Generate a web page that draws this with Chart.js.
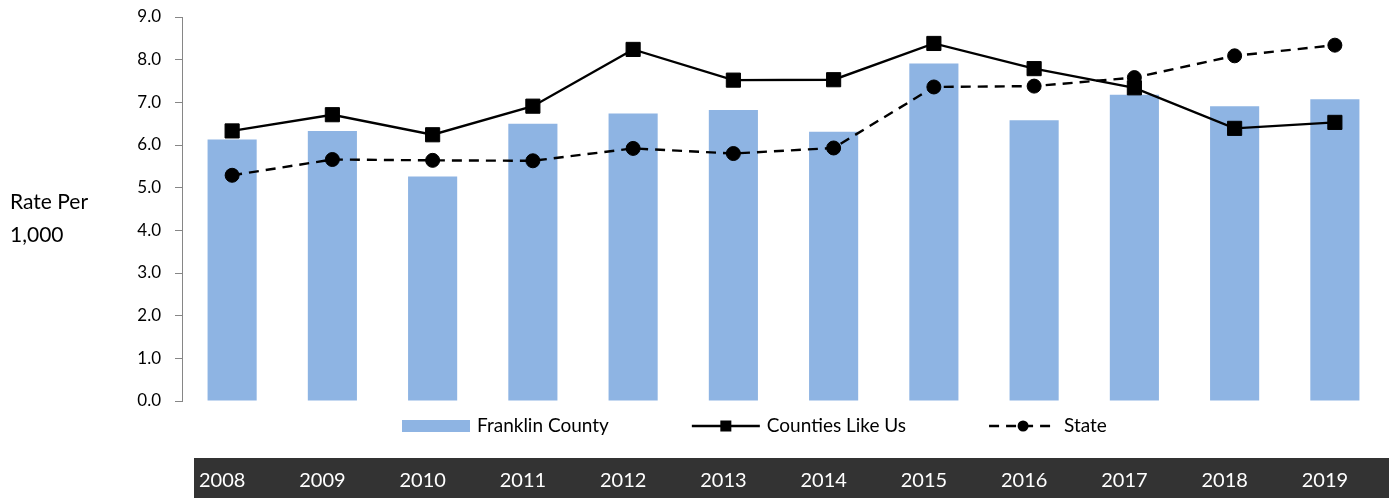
<!DOCTYPE html>
<html>
<head>
<meta charset="utf-8">
<script src="https://cdn.jsdelivr.net/npm/chart.js@4.4.1/dist/chart.umd.min.js"></script>
<style>
  body { margin: 0; background: #fff; }
</style>
</head>
<body>
<canvas id="chart" width="1396" height="498"></canvas>
<script>
// years shown in the dark strip under the legend
const years = ["2008", "2009", "2010", "2011", "2012", "2013", "2014", "2015", "2016", "2017", "2018", "2019"];

// rate per 1,000
const franklinCounty = [6.13, 6.33, 5.26, 6.50, 6.74, 6.82, 6.31, 7.91, 6.58, 7.18, 6.91, 7.07];
const countiesLikeUs = [6.33, 6.71, 6.24, 6.91, 8.24, 7.52, 7.53, 8.38, 7.79, 7.34, 6.39, 6.53];
const stateRate = [5.29, 5.66, 5.64, 5.63, 5.92, 5.80, 5.93, 7.36, 7.38, 7.58, 8.09, 8.34];

const yTitle = ["Rate Per", "1,000"];

const FONT = "Lato, 'Open Sans', sans-serif";

// white page + dark strip behind the year labels
const bandPlugin = {
    id: "yearBand",
    beforeDraw(chart) {
        const { ctx, width, height, scales } = chart;
        ctx.save();
        ctx.fillStyle = "#ffffff";
        ctx.fillRect(0, 0, width, height);
        ctx.fillStyle = "#333333";
        ctx.fillRect(scales.x.left + 12, height - 40, scales.x.right - scales.x.left - 8, 40);
        ctx.restore();
    }
};

// horizontal two-line title left of the y axis
const yTitlePlugin = {
    id: "yTitle",
    afterDraw(chart) {
        const { ctx, chartArea } = chart;
        const mid = (chartArea.top + chartArea.bottom) / 2;
        ctx.save();
        ctx.font = "21px " + FONT;
        ctx.fillStyle = "#000000";
        ctx.textAlign = "left";
        ctx.textBaseline = "alphabetic";
        yTitle.forEach((t, i) => ctx.fillText(t, 10, mid + i * 33));
        ctx.restore();
    }
};

// legend row between the plot and the year strip
const legendPlugin = {
    id: "rowLegend",
    afterDraw(chart) {
        const { ctx, chartArea } = chart;
        const y = chartArea.bottom + 25;
        let x = chartArea.left + 220;
        ctx.save();
        ctx.font = "19px " + FONT;
        ctx.textBaseline = "middle";
        ctx.textAlign = "left";
        chart.data.datasets.forEach(ds => {
            if (ds.type === "line") {
                ctx.strokeStyle = ds.borderColor;
                ctx.lineWidth = ds.borderWidth;
                ctx.setLineDash(ds.borderDash || []);
                ctx.beginPath();
                ctx.moveTo(x, y);
                ctx.lineTo(x + 68, y);
                ctx.stroke();
                ctx.setLineDash([]);
                ctx.fillStyle = ds.pointBackgroundColor;
                if (ds.pointStyle === "rect") {
                    ctx.fillRect(x + 34 - 5.5, y - 5.5, 11, 11);
                } else {
                    ctx.beginPath();
                    ctx.arc(x + 34, y, 5.5, 0, Math.PI * 2);
                    ctx.fill();
                }
            } else {
                ctx.fillStyle = ds.backgroundColor;
                ctx.fillRect(x, y - 6, 68, 12);
            }
            ctx.fillStyle = "#000000";
            ctx.fillText(ds.label, x + 75, y);
            x += 75 + ctx.measureText(ds.label).width + 83;
        });
        ctx.restore();
    }
};

const ctx = document.getElementById("chart").getContext("2d");
const chart = new Chart(ctx, {
    type: "bar",
    data: {
        labels: years,
        datasets: [
            {
                label: "Franklin County",
                data: franklinCounty,
                backgroundColor: "#8EB4E3",
                borderWidth: 0,
                categoryPercentage: 1,
                barPercentage: 0.49,
                order: 3
            },
            {
                type: "line",
                label: "Counties Like Us",
                data: countiesLikeUs,
                borderColor: "#000000",
                borderWidth: 2.4,
                tension: 0,
                pointStyle: "rect",
                pointRadius: 10,
                pointBorderWidth: 1,
                pointBackgroundColor: "#000000",
                pointBorderColor: "#000000",
                order: 1
            },
            {
                type: "line",
                label: "State",
                data: stateRate,
                borderColor: "#000000",
                borderWidth: 2.4,
                borderDash: [10, 7],
                tension: 0,
                pointStyle: "circle",
                pointRadius: 7,
                pointBorderWidth: 1,
                pointBackgroundColor: "#000000",
                pointBorderColor: "#000000",
                order: 2
            }
        ]
    },
    options: {
        responsive: false,
        animation: false,
        devicePixelRatio: 1,
        layout: {
            padding: { top: 17, right: 9, left: 0, bottom: 0 }
        },
        plugins: {
            legend: { display: false },
            tooltip: { enabled: false }
        },
        scales: {
            x: {
                grid: { display: false, drawTicks: false },
                border: { display: false },
                ticks: {
                    color: "#ffffff",
                    font: { family: FONT, size: 20 },
                    padding: 68,
                    labelOffset: -10,
                    maxRotation: 0,
                    autoSkip: false
                },
                afterFit(scale) {
                    scale.height = 97;
                    scale.paddingLeft = 0;
                    scale.paddingRight = 0;
                }
            },
            y: {
                min: 0,
                max: 9,
                grid: {
                    drawOnChartArea: false,
                    drawTicks: true,
                    tickLength: 7,
                    color: "#868686"
                },
                border: { display: true, color: "#868686", width: 1 },
                ticks: {
                    stepSize: 1,
                    padding: 14,
                    color: "#000000",
                    font: { family: FONT, size: 17 },
                    callback: v => v.toFixed(1)
                },
                afterFit(scale) {
                    scale.width = 182;
                    scale.paddingTop = 0;
                    scale.paddingBottom = 0;
                }
            }
        }
    },
    plugins: [bandPlugin, yTitlePlugin, legendPlugin]
});
</script>
</body>
</html>
